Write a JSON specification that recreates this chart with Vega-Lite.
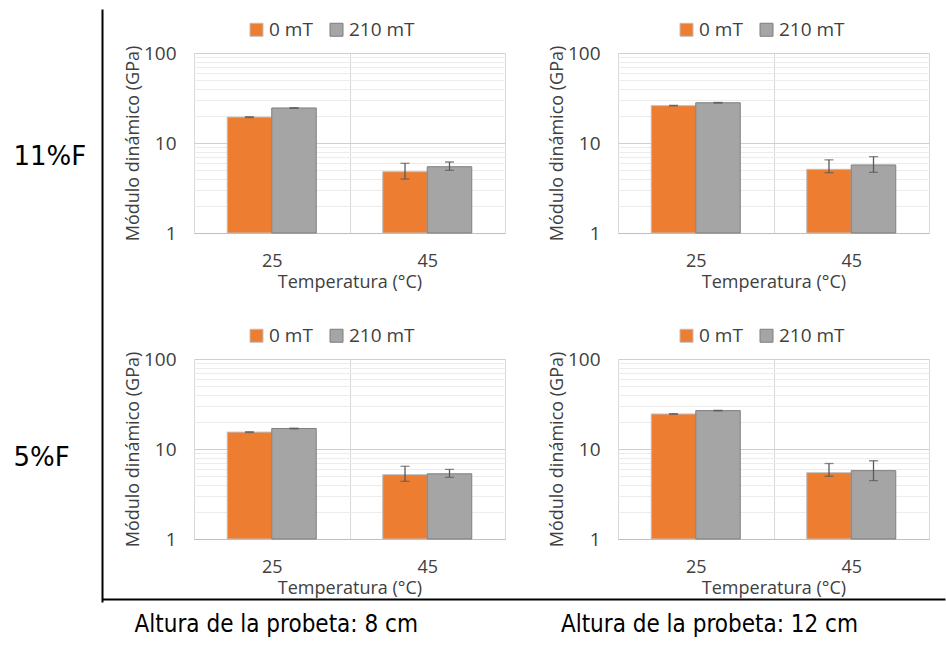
{
  "$schema": "https://vega.github.io/schema/vega-lite/v6.json",
  "background": "white",
  "padding": {"left": 0, "top": 20, "right": 0, "bottom": 0},
  "autosize": {"type": "pad"},
  "config": {
    "font": "Open Sans",
    "view": {"stroke": null},
    "axis": {"labelFont": "Open Sans", "titleFont": "Open Sans", "labelFontSize": 19, "titleFontSize": 18, "titleFontWeight": "normal", "labelColor": "#404040", "titleColor": "#404040"}
  },
  "datasets": {
    "bars": [
      {"panel": "TL", "temp": "25", "campo": "0 mT", "value": 19.4, "lo": 19.2, "hi": 19.6},
      {"panel": "TL", "temp": "25", "campo": "210 mT", "value": 24.5, "lo": 24.3, "hi": 24.7},
      {"panel": "TL", "temp": "45", "campo": "0 mT", "value": 4.8, "lo": 3.98, "hi": 5.95},
      {"panel": "TL", "temp": "45", "campo": "210 mT", "value": 5.45, "lo": 4.97, "hi": 6.15},
      {"panel": "TR", "temp": "25", "campo": "0 mT", "value": 26.0, "lo": 25.8, "hi": 26.2},
      {"panel": "TR", "temp": "25", "campo": "210 mT", "value": 28.0, "lo": 27.8, "hi": 28.2},
      {"panel": "TR", "temp": "45", "campo": "0 mT", "value": 5.1, "lo": 4.68, "hi": 6.5},
      {"panel": "TR", "temp": "45", "campo": "210 mT", "value": 5.7, "lo": 4.72, "hi": 7.04},
      {"panel": "BL", "temp": "25", "campo": "0 mT", "value": 15.4, "lo": 15.25, "hi": 15.55},
      {"panel": "BL", "temp": "25", "campo": "210 mT", "value": 16.9, "lo": 16.75, "hi": 17.05},
      {"panel": "BL", "temp": "45", "campo": "0 mT", "value": 5.19, "lo": 4.37, "hi": 6.43},
      {"panel": "BL", "temp": "45", "campo": "210 mT", "value": 5.3, "lo": 4.84, "hi": 5.95},
      {"panel": "BR", "temp": "25", "campo": "0 mT", "value": 24.5, "lo": 24.3, "hi": 24.7},
      {"panel": "BR", "temp": "25", "campo": "210 mT", "value": 26.7, "lo": 26.5, "hi": 26.9},
      {"panel": "BR", "temp": "45", "campo": "0 mT", "value": 5.46, "lo": 4.97, "hi": 6.9},
      {"panel": "BR", "temp": "45", "campo": "210 mT", "value": 5.75, "lo": 4.45, "hi": 7.4}
    ]
  },
  "resolve": {"scale": {"x": "independent", "y": "independent", "color": "independent", "stroke": "independent"}, "legend": {"color": "independent"}},
  "spacing": 22,
  "hconcat": [
    {
      "width": 102,
      "height": 538,
      "data": {"values": [{"fila": "11%F"}, {"fila": "5%F"}]},
      "mark": {"type": "point", "opacity": 0},
      "encoding": {
        "y": {"field": "fila", "type": "nominal", "sort": null,
          "scale": {"type": "point", "range": [-44, 549], "padding": 0.488, "align": 0.505},
          "axis": {"orient": "right", "title": null, "ticks": false, "tickSize": 0, "grid": false, "domainColor": "#000000", "domainWidth": 2, "labelPadding": -89, "labelAlign": "left", "labelBaseline": "middle", "labelFont": "DejaVu Sans", "labelFontSize": 26, "labelColor": "#000000", "labelOverlap": false}}
      }
    },
    {
      "spacing": 2,
      "resolve": {"scale": {"x": "independent", "y": "independent", "color": "independent", "stroke": "independent"}, "legend": {"color": "independent"}},
      "vconcat": [
        {
          "spacing": 35,
          "resolve": {"scale": {"x": "independent", "y": "independent", "color": "independent", "stroke": "independent"}, "legend": {"color": "independent"}},
          "vconcat": [
            {
              "spacing": 43,
              "resolve": {"scale": {"x": "independent", "y": "independent", "color": "independent", "stroke": "independent"}, "legend": {"color": "independent"}},
              "hconcat": [
                {
                  "width": 311, "height": 180,
                  "data": {"name": "bars"},
                  "transform": [{"filter": "datum.panel == 'TL'"}],
                  "encoding": {
                    "x": {"field": "temp", "type": "ordinal", "sort": null, "scale": {"paddingInner": 0, "paddingOuter": 0},
                      "axis": {"title": "Temperatura (°C)", "labelAngle": 0, "labelFontSize": 18, "ticks": false, "tickBand": "extent", "grid": true, "gridColor": "#D9D9D9", "domainColor": "#BFBFBF", "labelPadding": 19, "titlePadding": 3}},
                    "xOffset": {"field": "campo", "type": "nominal", "sort": ["0 mT", "210 mT"], "scale": {"paddingInner": 0, "paddingOuter": 0.747}}
                  },
                  "layer": [
                    {"mark": {"type": "bar", "strokeWidth": 1},
                     "encoding": {
                       "y": {"field": "value", "type": "quantitative", "scale": {"type": "log", "domain": [1, 100]},
                         "axis": {"title": "Módulo dinámico (GPa)", "values": [1,2,3,4,5,6,7,8,9,10,20,30,40,50,60,70,80,90,100], "labelExpr": "(datum.value == 1 || datum.value == 10 || datum.value == 100) ? format(datum.value, 'd') : ''", "grid": true, "gridColor": {"condition": {"test": "datum.value == 1 || datum.value == 10 || datum.value == 100", "value": "#D0D0D0"}, "value": "#ECECEC"}, "ticks": false, "domain": false, "labelPadding": 18, "titlePadding": 1, "labelOverlap": false, "labelFlush": false}},
                       "y2": {"datum": 1},
                       "color": {"field": "campo", "type": "nominal", "scale": {"domain": ["0 mT", "210 mT"], "range": ["#ED7D31", "#A5A5A5"]},
                         "legend": {"orient": "none", "legendX": 53, "legendY": -33, "direction": "horizontal", "title": null, "symbolType": "square", "symbolSize": 169, "symbolStrokeColor": "#9A9A9A", "symbolStrokeWidth": 1, "labelFontSize": 19, "labelFont": "Open Sans", "labelColor": "#404040", "labelOffset": 3, "columnPadding": 14}},
                       "stroke": {"field": "campo", "type": "nominal", "scale": {"domain": ["0 mT", "210 mT"], "range": ["#BFBFBF", "#7F7F7F"]}, "legend": null}
                     }},
                    {"mark": {"type": "rule", "color": "#595959", "strokeWidth": 1.3},
                     "encoding": {"y": {"field": "lo", "type": "quantitative"}, "y2": {"field": "hi"}}},
                    {"mark": {"type": "tick", "color": "#595959", "size": 9, "thickness": 1.3},
                     "encoding": {"y": {"field": "lo", "type": "quantitative"}}},
                    {"mark": {"type": "tick", "color": "#595959", "size": 9, "thickness": 1.3},
                     "encoding": {"y": {"field": "hi", "type": "quantitative"}}}
                  ]
                },
                {
                  "width": 311, "height": 180,
                  "data": {"name": "bars"},
                  "transform": [{"filter": "datum.panel == 'TR'"}],
                  "encoding": {
                    "x": {"field": "temp", "type": "ordinal", "sort": null, "scale": {"paddingInner": 0, "paddingOuter": 0},
                      "axis": {"title": "Temperatura (°C)", "labelAngle": 0, "labelFontSize": 18, "ticks": false, "tickBand": "extent", "grid": true, "gridColor": "#D9D9D9", "domainColor": "#BFBFBF", "labelPadding": 19, "titlePadding": 3}},
                    "xOffset": {"field": "campo", "type": "nominal", "sort": ["0 mT", "210 mT"], "scale": {"paddingInner": 0, "paddingOuter": 0.747}}
                  },
                  "layer": [
                    {"mark": {"type": "bar", "strokeWidth": 1},
                     "encoding": {
                       "y": {"field": "value", "type": "quantitative", "scale": {"type": "log", "domain": [1, 100]},
                         "axis": {"title": "Módulo dinámico (GPa)", "values": [1,2,3,4,5,6,7,8,9,10,20,30,40,50,60,70,80,90,100], "labelExpr": "(datum.value == 1 || datum.value == 10 || datum.value == 100) ? format(datum.value, 'd') : ''", "grid": true, "gridColor": {"condition": {"test": "datum.value == 1 || datum.value == 10 || datum.value == 100", "value": "#D0D0D0"}, "value": "#ECECEC"}, "ticks": false, "domain": false, "labelPadding": 18, "titlePadding": 1, "labelOverlap": false, "labelFlush": false}},
                       "y2": {"datum": 1},
                       "color": {"field": "campo", "type": "nominal", "scale": {"domain": ["0 mT", "210 mT"], "range": ["#ED7D31", "#A5A5A5"]},
                         "legend": {"orient": "none", "legendX": 59, "legendY": -33, "direction": "horizontal", "title": null, "symbolType": "square", "symbolSize": 169, "symbolStrokeColor": "#9A9A9A", "symbolStrokeWidth": 1, "labelFontSize": 19, "labelFont": "Open Sans", "labelColor": "#404040", "labelOffset": 3, "columnPadding": 14}},
                       "stroke": {"field": "campo", "type": "nominal", "scale": {"domain": ["0 mT", "210 mT"], "range": ["#BFBFBF", "#7F7F7F"]}, "legend": null}
                     }},
                    {"mark": {"type": "rule", "color": "#595959", "strokeWidth": 1.3},
                     "encoding": {"y": {"field": "lo", "type": "quantitative"}, "y2": {"field": "hi"}}},
                    {"mark": {"type": "tick", "color": "#595959", "size": 9, "thickness": 1.3},
                     "encoding": {"y": {"field": "lo", "type": "quantitative"}}},
                    {"mark": {"type": "tick", "color": "#595959", "size": 9, "thickness": 1.3},
                     "encoding": {"y": {"field": "hi", "type": "quantitative"}}}
                  ]
                }
              ]
            },
            {
              "spacing": 43,
              "resolve": {"scale": {"x": "independent", "y": "independent", "color": "independent", "stroke": "independent"}, "legend": {"color": "independent"}},
              "hconcat": [
                {
                  "width": 311, "height": 180,
                  "data": {"name": "bars"},
                  "transform": [{"filter": "datum.panel == 'BL'"}],
                  "encoding": {
                    "x": {"field": "temp", "type": "ordinal", "sort": null, "scale": {"paddingInner": 0, "paddingOuter": 0},
                      "axis": {"title": "Temperatura (°C)", "labelAngle": 0, "labelFontSize": 18, "ticks": false, "tickBand": "extent", "grid": true, "gridColor": "#D9D9D9", "domainColor": "#BFBFBF", "labelPadding": 19, "titlePadding": 3}},
                    "xOffset": {"field": "campo", "type": "nominal", "sort": ["0 mT", "210 mT"], "scale": {"paddingInner": 0, "paddingOuter": 0.747}}
                  },
                  "layer": [
                    {"mark": {"type": "bar", "strokeWidth": 1},
                     "encoding": {
                       "y": {"field": "value", "type": "quantitative", "scale": {"type": "log", "domain": [1, 100]},
                         "axis": {"title": "Módulo dinámico (GPa)", "values": [1,2,3,4,5,6,7,8,9,10,20,30,40,50,60,70,80,90,100], "labelExpr": "(datum.value == 1 || datum.value == 10 || datum.value == 100) ? format(datum.value, 'd') : ''", "grid": true, "gridColor": {"condition": {"test": "datum.value == 1 || datum.value == 10 || datum.value == 100", "value": "#D0D0D0"}, "value": "#ECECEC"}, "ticks": false, "domain": false, "labelPadding": 18, "titlePadding": 1, "labelOverlap": false, "labelFlush": false}},
                       "y2": {"datum": 1},
                       "color": {"field": "campo", "type": "nominal", "scale": {"domain": ["0 mT", "210 mT"], "range": ["#ED7D31", "#A5A5A5"]},
                         "legend": {"orient": "none", "legendX": 53, "legendY": -33, "direction": "horizontal", "title": null, "symbolType": "square", "symbolSize": 169, "symbolStrokeColor": "#9A9A9A", "symbolStrokeWidth": 1, "labelFontSize": 19, "labelFont": "Open Sans", "labelColor": "#404040", "labelOffset": 3, "columnPadding": 14}},
                       "stroke": {"field": "campo", "type": "nominal", "scale": {"domain": ["0 mT", "210 mT"], "range": ["#BFBFBF", "#7F7F7F"]}, "legend": null}
                     }},
                    {"mark": {"type": "rule", "color": "#595959", "strokeWidth": 1.3},
                     "encoding": {"y": {"field": "lo", "type": "quantitative"}, "y2": {"field": "hi"}}},
                    {"mark": {"type": "tick", "color": "#595959", "size": 9, "thickness": 1.3},
                     "encoding": {"y": {"field": "lo", "type": "quantitative"}}},
                    {"mark": {"type": "tick", "color": "#595959", "size": 9, "thickness": 1.3},
                     "encoding": {"y": {"field": "hi", "type": "quantitative"}}}
                  ]
                },
                {
                  "width": 311, "height": 180,
                  "data": {"name": "bars"},
                  "transform": [{"filter": "datum.panel == 'BR'"}],
                  "encoding": {
                    "x": {"field": "temp", "type": "ordinal", "sort": null, "scale": {"paddingInner": 0, "paddingOuter": 0},
                      "axis": {"title": "Temperatura (°C)", "labelAngle": 0, "labelFontSize": 18, "ticks": false, "tickBand": "extent", "grid": true, "gridColor": "#D9D9D9", "domainColor": "#BFBFBF", "labelPadding": 19, "titlePadding": 3}},
                    "xOffset": {"field": "campo", "type": "nominal", "sort": ["0 mT", "210 mT"], "scale": {"paddingInner": 0, "paddingOuter": 0.747}}
                  },
                  "layer": [
                    {"mark": {"type": "bar", "strokeWidth": 1},
                     "encoding": {
                       "y": {"field": "value", "type": "quantitative", "scale": {"type": "log", "domain": [1, 100]},
                         "axis": {"title": "Módulo dinámico (GPa)", "values": [1,2,3,4,5,6,7,8,9,10,20,30,40,50,60,70,80,90,100], "labelExpr": "(datum.value == 1 || datum.value == 10 || datum.value == 100) ? format(datum.value, 'd') : ''", "grid": true, "gridColor": {"condition": {"test": "datum.value == 1 || datum.value == 10 || datum.value == 100", "value": "#D0D0D0"}, "value": "#ECECEC"}, "ticks": false, "domain": false, "labelPadding": 18, "titlePadding": 1, "labelOverlap": false, "labelFlush": false}},
                       "y2": {"datum": 1},
                       "color": {"field": "campo", "type": "nominal", "scale": {"domain": ["0 mT", "210 mT"], "range": ["#ED7D31", "#A5A5A5"]},
                         "legend": {"orient": "none", "legendX": 59, "legendY": -33, "direction": "horizontal", "title": null, "symbolType": "square", "symbolSize": 169, "symbolStrokeColor": "#9A9A9A", "symbolStrokeWidth": 1, "labelFontSize": 19, "labelFont": "Open Sans", "labelColor": "#404040", "labelOffset": 3, "columnPadding": 14}},
                       "stroke": {"field": "campo", "type": "nominal", "scale": {"domain": ["0 mT", "210 mT"], "range": ["#BFBFBF", "#7F7F7F"]}, "legend": null}
                     }},
                    {"mark": {"type": "rule", "color": "#595959", "strokeWidth": 1.3},
                     "encoding": {"y": {"field": "lo", "type": "quantitative"}, "y2": {"field": "hi"}}},
                    {"mark": {"type": "tick", "color": "#595959", "size": 9, "thickness": 1.3},
                     "encoding": {"y": {"field": "lo", "type": "quantitative"}}},
                    {"mark": {"type": "tick", "color": "#595959", "size": 9, "thickness": 1.3},
                     "encoding": {"y": {"field": "hi", "type": "quantitative"}}}
                  ]
                }
              ]
            }
          ]
        },
        {
          "width": 751,
          "height": 40,
          "data": {"values": [{"alt": "Altura de la probeta: 8 cm"}, {"alt": "Altura de la probeta: 12 cm"}]},
          "mark": {"type": "point", "opacity": 0},
          "encoding": {
            "x": {"field": "alt", "type": "nominal", "sort": null,
              "scale": {"type": "point", "range": [-92, 751], "padding": 0.473, "align": 0.424},
              "axis": {"orient": "top", "title": null, "ticks": false, "tickSize": 0, "grid": false, "domainColor": "#000000", "domainWidth": 2, "labelPadding": -25, "labelBaseline": "middle", "labelAngle": 0, "labelFont": "DejaVu Sans Condensed", "labelFontSize": 24, "labelColor": "#000000", "labelOverlap": false, "labelLimit": 0}}
          }
        }
      ]
    }
  ]
}
